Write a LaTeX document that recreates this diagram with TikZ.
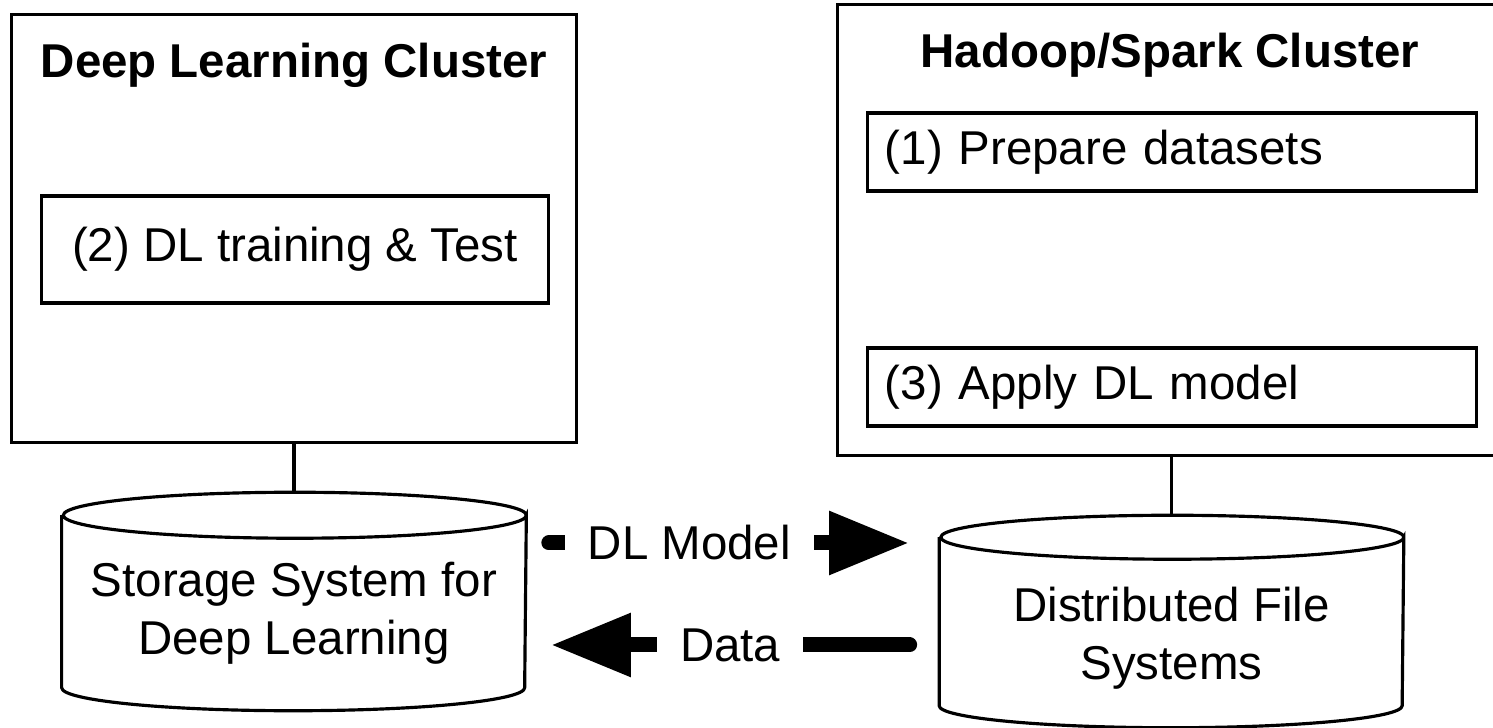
\documentclass[tikz,border=0pt]{standalone}
\usepackage{fontspec}
\setmainfont{Liberation Sans}
\usetikzlibrary{positioning,calc,arrows.meta}

\begin{document}
\begin{tikzpicture}[x=0.01cm,y=-0.01cm]
	\tikzset{
		clusterbox/.style={draw,line width=0.9pt,rectangle},
		taskbox/.style={draw,line width=0.9pt,rectangle,minimum width=6.08cm,minimum height=0.78cm,text width=5.74cm,inner xsep=0.17cm,align=left,font=\fontsize{13.5}{16}\selectfont},
		storebody/.style={rectangle,minimum width=4.63cm,inner sep=0pt},
		storeline/.style={line width=0.9pt},
		storetext/.style={align=center,font=\fontsize{13.5}{16.5}\selectfont},
		flowarrow/.style={line width=0.15cm,line cap=round,-{Triangle[length=0.8cm,width=0.6cm]}},
		flowlabel/.style={fill=white,inner xsep=0.23cm,inner ysep=0.1cm,font=\fontsize{13.5}{16}\selectfont},
	}
	\useasboundingbox (0,0) rectangle (1493,728);

	% clusters
	\node[clusterbox,minimum width=5.65cm,minimum height=4.27cm] (dlc) at (294,228.5) {};
	\node[clusterbox,minimum width=6.64cm,minimum height=4.5cm] (hsc) at (1170,230) {};
	\node[font=\fontsize{13.5}{16}\selectfont\bfseries] (dlctitle) at (294,65) {Deep Learning Cluster};
	\node[font=\fontsize{13.5}{16}\selectfont\bfseries] (hsctitle) at (1170,55) {Hadoop/Spark Cluster};

	% tasks
	\node[draw,line width=0.9pt,minimum width=5.06cm,minimum height=1.07cm,font=\fontsize{13.5}{16}\selectfont] (train) at (295,249.5) {(2) DL training \& Test};
	\node[taskbox] (prep) at (1172,152) {(1) Prepare datasets};
	\node[taskbox] (apply) at (1172,387) {(3) Apply DL model};

	% storage (cylinders)
	\node[storebody,minimum height=1.71cm] (sdl) at (294,601.5) {};
	\node[storebody,minimum height=1.67cm] (dfs) at (1171.5,621.5) {};
	\draw[storeline] (sdl.north west) -- (sdl.south west) arc[start angle=180,end angle=0,x radius=231.5,y radius=23]
		-- (sdl.north east) arc[start angle=0,end angle=360,x radius=231.5,y radius=23];
	\draw[storeline] (dfs.north west) -- (dfs.south west) arc[start angle=180,end angle=0,x radius=231.5,y radius=22]
		-- (dfs.north east) arc[start angle=0,end angle=360,x radius=231.5,y radius=22];
	\node[storetext] (sdltext) at ($(sdl.center)+(0,12)$) {Storage System for\\Deep Learning};
	\node[storetext] (dfstext) at ($(dfs.center)+(0,16.5)$) {Distributed File\\Systems};

	\draw[storeline] (dlc.south) -- ($(sdl.north)+(0,-23)$);
	\draw[storeline] ($(dfs.north)+(0,-22)$) -- ($(dfs.north |- hsc.south)$);

	\draw[flowarrow] ($(sdl.east)+(22.5,-58.5)$) -- node[flowlabel,pos=0.39] {DL Model} ($(dfs.west)+(-30,-78.5)$);
	\draw[flowarrow] ($(dfs.west)+(-29.5,23.5)$) -- node[flowlabel] {Data} ($(sdl.east)+(24.5,43.5)$);
\end{tikzpicture}
\end{document}
